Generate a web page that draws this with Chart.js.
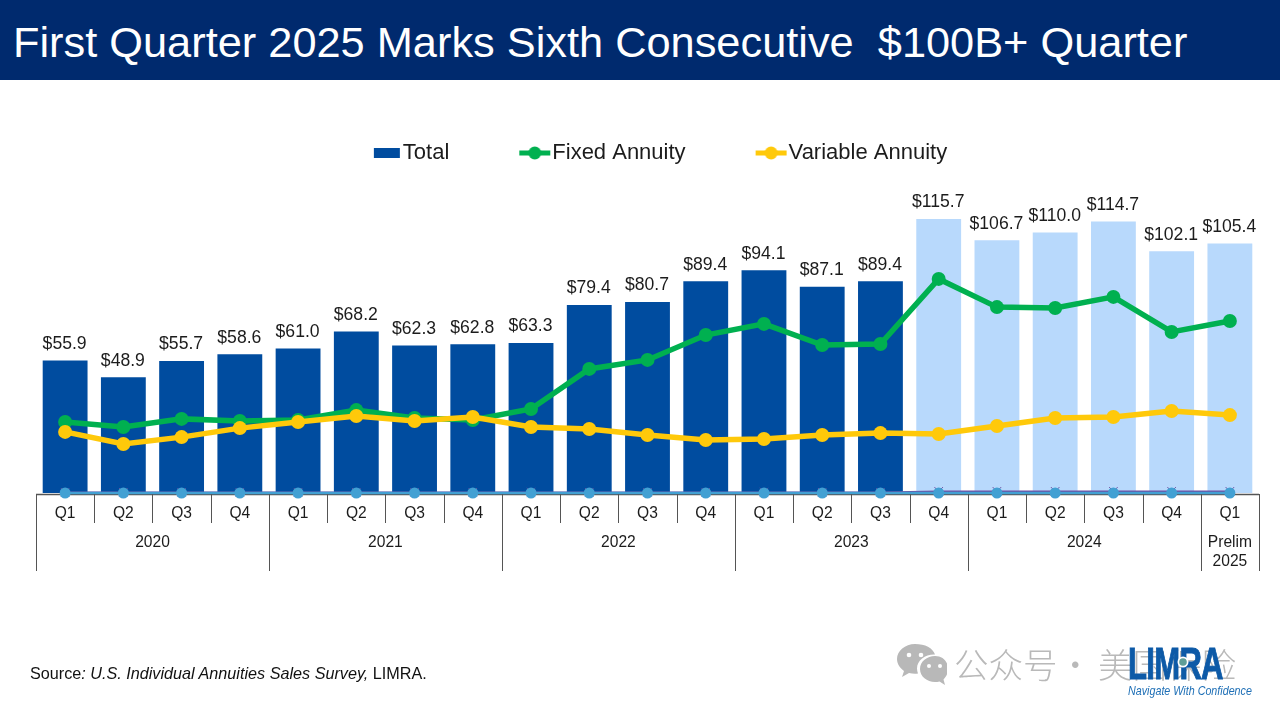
<!DOCTYPE html>
<html lang="en">
<head>
<meta charset="utf-8">
<title>First Quarter 2025 Marks Sixth Consecutive $100B+ Quarter</title>
<script src="https://cdn.jsdelivr.net/npm/chart.js@4/dist/chart.umd.min.js"></script>
<style>
    html, body { margin: 0; padding: 0; background: #fff; width: 1280px; height: 716px; overflow: hidden; }
    body { position: relative; font-family: "Liberation Sans", Arial, sans-serif; }
    #salesChart { position: absolute; left: 0; top: 0; }
    .banner { position: absolute; left: 0; top: 0; width: 1280px; height: 80px; background: #002a6e; color: #fff;
              font-size: 43.35px; line-height: 84px; padding-left: 13px; box-sizing: border-box; white-space: pre; }
    .source { position: absolute; left: 30px; top: 664px; font-size: 16.2px; color: #111; white-space: pre; }
    .wechat { position: absolute; left: 897px; top: 643px; }
    .watermark { position: absolute; top: 642px; font-family: "Noto Sans CJK SC"; font-weight: 300;
                 font-size: 34.5px; line-height: 42px; color: #b9b9b9; white-space: pre; }
    .logo { position: absolute; left: 1128px; top: 638px; font-weight: bold; font-size: 45px; line-height: 52px; color: #0d5aa7;
            -webkit-text-stroke: 1px #0d5aa7; transform: scaleX(0.69); transform-origin: left top; letter-spacing: -1px; }
    .globe { position: absolute; left: 1177px; top: 656px; }
    .tagline { position: absolute; left: 1128px; top: 683px; font-style: italic; font-size: 12.2px; line-height: 16px; color: #1e6fb6;
               white-space: pre; transform: scaleX(0.88); transform-origin: left top; }
</style>
</head>
<body>
<canvas id="salesChart" width="1280" height="716"></canvas>
<div class="banner">First Quarter 2025 Marks Sixth Consecutive  $100B+ Quarter</div>
<div class="source">Source<i>: U.S. Individual Annuities Sales Survey,</i> LIMRA.</div>
<svg class="wechat" width="50" height="44" viewBox="0 0 50 44">
    <path fill="#b8b8b8" d="M18 1C8 1 0 8 0 16c0 5 3 9 7 12l-2 6 7-4c2 .6 4 .8 6 .8 1 0 2 0 3-.2-.6-1.600-1-3.200-1-5 0-8 8-14 17-14h1C36 5 28 1 18 1z"/>
    <path fill="#b8b8b8" d="M38 13c-8 0-15 5.500-15 13s7 13 15 13c1.600 0 3-.2 4.500-.6L48 42l-1.500-5.500C49 34 51 30.500 51 26c0-7.500-5-13-13-13z"/>
    <circle cx="12" cy="12" r="2.300" fill="#fff"/><circle cx="24" cy="12" r="2.300" fill="#fff"/>
    <circle cx="32" cy="23" r="2" fill="#fff"/><circle cx="43" cy="23" r="2" fill="#fff"/>
</svg>
<div class="watermark" style="left:954px">公众号</div>
<div class="watermark" style="left:1058px">·</div>
<div class="watermark" style="left:1098px">美国保险</div>
<div class="logo">LIMRA</div>
<svg class="globe" width="12" height="12" viewBox="0 0 12 12"><circle cx="6" cy="6" r="5.500" fill="#fff"/><circle cx="6" cy="6" r="3.800" fill="#5f9e97"/></svg>
<div class="tagline">Navigate With Confidence</div>

<script>
// Chart data
const quarters = ['Q1', 'Q2', 'Q3', 'Q4', 'Q1', 'Q2', 'Q3', 'Q4', 'Q1', 'Q2', 'Q3', 'Q4', 'Q1', 'Q2', 'Q3', 'Q4', 'Q1', 'Q2', 'Q3', 'Q4', 'Q1'];
const years = [['2020'], ['2021'], ['2022'], ['2023'], ['2024'], ['Prelim', '2025']];
const yearSpans = [4, 4, 4, 4, 4, 1];
const totalSales = [55.9, 48.9, 55.7, 58.6, 61.0, 68.2, 62.3, 62.8, 63.3, 79.4, 80.7, 89.4, 94.1, 87.1, 89.4, 115.7, 106.7, 110.0, 114.7, 102.1, 105.4];
const fixedAnnuity = [30.0, 27.9, 31.3, 30.4, 30.8, 35.0, 31.7, 30.8, 35.5, 52.4, 56.2, 66.7, 71.4, 62.5, 62.9, 90.4, 78.5, 78.1, 82.8, 68.0, 72.6];
const variableAnnuity = [25.8, 20.7, 23.6, 27.4, 30.0, 32.5, 30.4, 32.1, 27.9, 27.0, 24.5, 22.4, 22.8, 24.5, 25.3, 24.9, 28.3, 31.7, 32.1, 34.6, 32.9];
const otherLow = [0.3, 0.3, 0.3, 0.3, 0.3, 0.3, 0.3, 0.3, 0.3, 0.3, 0.3, 0.3, 0.3, 0.3, 0.3, 0.7, 0.7, 0.7, 0.7, 0.7, 0.7];
const otherBase = [0, 0, 0, 0, 0, 0, 0, 0, 0, 0, 0, 0, 0, 0, 0, 0, 0, 0, 0, 0, 0];
const legendNames = ['Total', 'Fixed Annuity', 'Variable Annuity'];

// Colours
const darkBlue = '#004c9f';
const lightBlue = '#b8d9fc';
const green = '#00b050';
const yellow = '#ffc90a';
const firstLightBar = 15;
const axisColor = '#555555';
const textColor = '#1c1c1c';
const FONT = '"Liberation Sans", Arial, sans-serif';

// Legend swatches, drawn on small canvases and given to the legend as point styles
function makeSwatch(color, isBar) {
    const c = document.createElement('canvas');
    c.width = 40;
    c.height = 16;
    const g = c.getContext('2d');
    g.fillStyle = color;
    if (isBar) {
        g.fillRect(12, 3, 26, 10);
    } else {
        g.fillRect(8, 5.5, 31, 5);
        g.beginPath();
        g.arc(23.5, 8, 6.5, 0, Math.PI * 2);
        g.fill();
    }
    return c;
}
const legendSwatches = [makeSwatch(darkBlue, true), makeSwatch(green, false), makeSwatch(yellow, false)];

// Only the three named series are in the legend, in the slide's order
function buildLegendItems(chart) {
    const items = Chart.defaults.plugins.legend.labels.generateLabels(chart);
    return legendNames.map((name, i) => {
        const item = items.find(it => it.text === name);
        item.pointStyle = legendSwatches[i];
        return item;
    });
}

// Value labels above the bars
const barLabels = {
    id: 'barLabels',
    afterDatasetsDraw(chart) {
        const ctx = chart.ctx;
        ctx.save();
        ctx.font = '17.6px ' + FONT;
        ctx.fillStyle = textColor;
        ctx.textAlign = 'center';
        ctx.textBaseline = 'middle';
        chart.getDatasetMeta(0).data.forEach((bar, i) => {
            ctx.fillText('$' + totalSales[i].toFixed(1), bar.x - 0.5, bar.y - 16.5);
        });
        ctx.restore();
    }
};

// Two level category axis: quarter and year dividers, year names
const yearAxis = {
    id: 'yearAxis',
    beforeDatasetsDraw(chart) {
        const ctx = chart.ctx;
        const bottom = chart.chartArea.bottom;
        ctx.save();
        ctx.strokeStyle = axisColor;
        ctx.lineWidth = 1.5;
        ctx.beginPath();
        ctx.moveTo(chart.chartArea.left, bottom + 1.5);
        ctx.lineTo(chart.chartArea.right, bottom + 1.5);
        ctx.stroke();
        ctx.restore();
    },
    afterDraw(chart) {
        const ctx = chart.ctx;
        const scale = chart.scales.x;
        const bottom = chart.chartArea.bottom;
        const step = scale.getPixelForValue(1) - scale.getPixelForValue(0);
        const edge = i => scale.getPixelForValue(i) - step / 2;
        ctx.save();
        ctx.strokeStyle = axisColor;
        ctx.lineWidth = 1;
        ctx.beginPath();
        for (let i = 0; i <= quarters.length; i++) {
            const x = Math.round(edge(i)) + 0.5;
            ctx.moveTo(x, bottom + 1);
            ctx.lineTo(x, bottom + 30);
        }
        let first = 0;
        ctx.moveTo(Math.round(edge(0)) + 0.5, bottom + 30);
        ctx.lineTo(Math.round(edge(0)) + 0.5, bottom + 78);
        ctx.font = '15.6px ' + FONT;
        ctx.fillStyle = textColor;
        ctx.textAlign = 'center';
        ctx.textBaseline = 'middle';
        yearSpans.forEach((span, i) => {
            const x = Math.round(edge(first + span)) + 0.5;
            ctx.moveTo(x, bottom + 30);
            ctx.lineTo(x, bottom + 78);
            const mid = (edge(first) + edge(first + span)) / 2;
            years[i].forEach((line, k) => ctx.fillText(line, mid, bottom + 49.5 + k * 19));
            first += span;
        });
        ctx.stroke();
        ctx.restore();
    }
};

// The legend box is kept 1px high so it does not push the plot down: open its clip again,
// and centre it a little to the right of the plot area as on the slide
const legendFix = {
    id: 'legendFix',
    afterLayout(chart) {
        const legend = chart.legend;
        legend.left += 12;
        legend.right += 12;
        legend.bottom = legend.top + 130;
    }
};

const salesChart = new Chart(document.getElementById('salesChart'), {
    type: 'bar',
    data: {
        labels: quarters,
        datasets: [
            {
                label: legendNames[0],
                data: totalSales,
                backgroundColor: ctx => ctx.dataIndex < firstLightBar ? darkBlue : lightBlue,
                categoryPercentage: 1,
                barPercentage: 0.77,
                order: 5
            },
            {
                type: 'line',
                label: legendNames[1],
                data: fixedAnnuity,
                borderColor: green,
                backgroundColor: green,
                borderWidth: 5.5,
                pointRadius: 7,
                pointBorderWidth: 0,
                order: 2
            },
            {
                type: 'line',
                label: legendNames[2],
                data: variableAnnuity,
                borderColor: yellow,
                backgroundColor: yellow,
                borderWidth: 5.5,
                pointRadius: 7,
                pointBorderWidth: 0,
                order: 1
            },
            {
                type: 'line',
                label: 'Other A',
                data: otherLow,
                borderColor: '#6d4fa3',
                backgroundColor: '#6d4fa3',
                borderWidth: 1.5,
                pointRadius: 6,
                pointBorderWidth: 1,
                pointStyle: 'crossRot',
                clip: false,
                order: 4
            },
            {
                type: 'line',
                label: 'Other B',
                data: otherBase,
                borderColor: '#42a0d3',
                backgroundColor: '#42a0d3',
                borderWidth: 2.5,
                pointRadius: 5.5,
                pointBorderWidth: 0,
                clip: false,
                order: 3
            }
        ]
    },
    options: {
        responsive: false,
        animation: false,
        devicePixelRatio: 1,
        layout: { padding: { left: 36, right: 21, top: 70, bottom: 0 } },
        plugins: {
            tooltip: { enabled: false },
            legend: {
                position: 'top',
                maxHeight: 1,
                labels: {
                    usePointStyle: true,
                    pointStyleWidth: 20,
                    padding: 72,
                    color: textColor,
                    font: { family: FONT, size: 22 },
                    generateLabels: buildLegendItems
                }
            }
        },
        scales: {
            x: {
                grid: { display: false },
                border: { display: false },
                afterFit: scale => { scale.height = 223; },
                ticks: {
                    autoSkip: false,
                    maxRotation: 0,
                    padding: 3,
                    color: textColor,
                    font: { family: FONT, size: 15.6 }
                }
            },
            y: {
                display: false,
                min: 0,
                max: 178.2
            }
        }
    },
    plugins: [barLabels, yearAxis, legendFix]
});
</script>
</body>
</html>
